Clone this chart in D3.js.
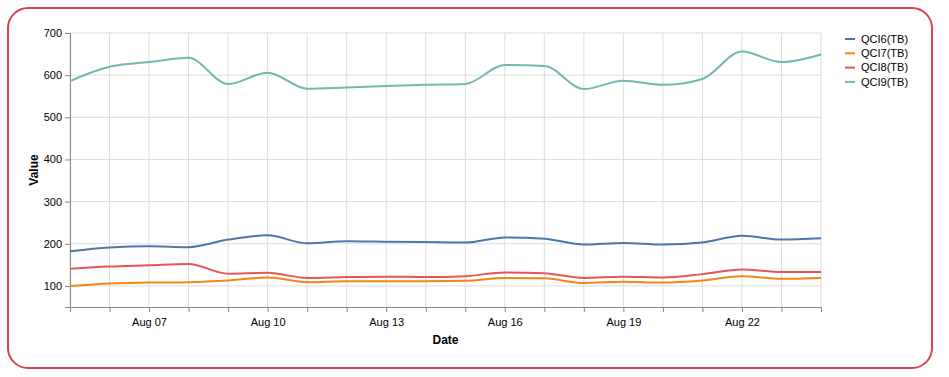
<!DOCTYPE html>
<html>
<head>
<meta charset="utf-8">
<script src="https://cdn.jsdelivr.net/npm/d3@7"></script>
<style>
  body { margin: 0; background: #fff; font-family: "Liberation Sans", Arial, sans-serif; }
</style>
</head>
<body>
<div id="chart"></div>
<script>
// dates: Aug 05 .. Aug 24
const dates = ["2023-08-05", "2023-08-06", "2023-08-07", "2023-08-08", "2023-08-09",
  "2023-08-10", "2023-08-11", "2023-08-12", "2023-08-13", "2023-08-14",
  "2023-08-15", "2023-08-16", "2023-08-17", "2023-08-18", "2023-08-19",
  "2023-08-20", "2023-08-21", "2023-08-22", "2023-08-23", "2023-08-24"];
const seriesNames = ["QCI6(TB)", "QCI7(TB)", "QCI8(TB)", "QCI9(TB)"];
const qci6 = [182, 191, 194, 192, 210, 220, 201, 206, 205, 204, 203, 215, 212, 198, 202, 198, 203, 219, 210, 213];
const qci7 = [100, 106, 108, 109, 113, 120, 109, 111, 111, 111, 112, 119, 118, 107, 110, 108, 113, 123, 117, 119];
const qci8 = [141, 146, 149, 152, 129, 131, 119, 121, 122, 121, 123, 132, 130, 119, 122, 120, 128, 139, 133, 133];
const qci9 = [586, 620, 631, 641, 579, 606, 568, 571, 574, 577, 579, 624, 622, 567, 587, 577, 591, 656, 631, 649];
const yTicks = [100, 200, 300, 400, 500, 600, 700];
const colors = ["#4c78a8", "#f58518", "#e45756", "#72b7b2"];

const W = 949, H = 377;
const font = "Liberation Sans, Arial, sans-serif";
const svg = d3.select("#chart").append("svg").attr("width", W).attr("height", H);

// outer frame
svg.append("rect")
  .attr("x", 8).attr("y", 8).attr("width", 924).attr("height", 360)
  .attr("rx", 20).attr("ry", 20)
  .attr("fill", "none").attr("stroke", "#d9434f").attr("stroke-width", 2);

const m = { left: 70, top: 33, right: 821, bottom: 307 };
const parse = d3.timeParse("%Y-%m-%d");
const xDates = dates.map(parse);

const x = d3.scaleTime().domain(d3.extent(xDates)).range([m.left, m.right]);
const y = d3.scaleLinear().domain([50, 700]).range([m.bottom, m.top]);

const g = svg.append("g");

// grid
g.selectAll(".vgrid").data(xDates).join("line")
  .attr("x1", d => x(d)).attr("x2", d => x(d))
  .attr("y1", m.top).attr("y2", m.bottom)
  .attr("stroke", "#ddd").attr("stroke-width", 1);
g.selectAll(".hgrid").data(yTicks).join("line")
  .attr("x1", m.left).attr("x2", m.right)
  .attr("y1", d => y(d)).attr("y2", d => y(d))
  .attr("stroke", "#ddd").attr("stroke-width", 1);

// x axis
const xAxis = d3.axisBottom(x)
  .tickValues(xDates)
  .tickSize(5)
  .tickFormat(d => ((d.getDate() - 7) % 3 === 0 && d.getDate() >= 7) ? d3.timeFormat("%b %d")(d) : "");
const gx = svg.append("g").attr("transform", `translate(0,${m.bottom})`).call(xAxis);
gx.select(".domain").attr("stroke", "#888");
gx.selectAll(".tick line").attr("stroke", "#888");
gx.selectAll("text").attr("fill", "#000").attr("font-size", 11)
  .attr("font-family", font).attr("y", 9).attr("dy", "0.9em");

// y axis
const yAxis = d3.axisLeft(y).tickValues(yTicks).tickSize(5);
const gy = svg.append("g").attr("transform", `translate(${m.left},0)`).call(yAxis);
gy.select(".domain").attr("stroke", "#888");
gy.selectAll(".tick line").attr("stroke", "#888");
gy.selectAll("text").attr("fill", "#000").attr("font-size", 11)
  .attr("font-family", font).attr("x", -8);

// titles
svg.append("text").attr("x", (m.left + m.right) / 2).attr("y", 344)
  .attr("text-anchor", "middle").attr("font-size", 12).attr("font-weight", "bold")
  .attr("font-family", font).text("Date");
svg.append("text").attr("transform", `translate(38,${(m.top + m.bottom) / 2}) rotate(-90)`)
  .attr("text-anchor", "middle").attr("font-size", 12).attr("font-weight", "bold")
  .attr("font-family", font).text("Value");

// lines
const allSeries = [qci6, qci7, qci8, qci9];
const line = d3.line()
  .x((d, i) => x(xDates[i]))
  .y(d => y(d))
  .curve(d3.curveMonotoneX);
svg.append("g").selectAll("path").data(allSeries).join("path")
  .attr("d", line)
  .attr("fill", "none")
  .attr("stroke", (d, i) => colors[i])
  .attr("stroke-width", 2);

// legend
const leg = svg.append("g").attr("transform", "translate(845,39)");
const items = leg.selectAll("g").data(seriesNames).join("g")
  .attr("transform", (d, i) => `translate(0,${i * 14.3})`);
items.append("line").attr("x1", 0).attr("x2", 10).attr("y1", 0).attr("y2", 0)
  .attr("stroke", (d, i) => colors[i]).attr("stroke-width", 2);
items.append("text").attr("x", 16).attr("y", 0).attr("dy", "0.35em")
  .attr("font-size", 11).attr("font-family", font).attr("fill", "#000").text(d => d);
</script>
</body>
</html>
